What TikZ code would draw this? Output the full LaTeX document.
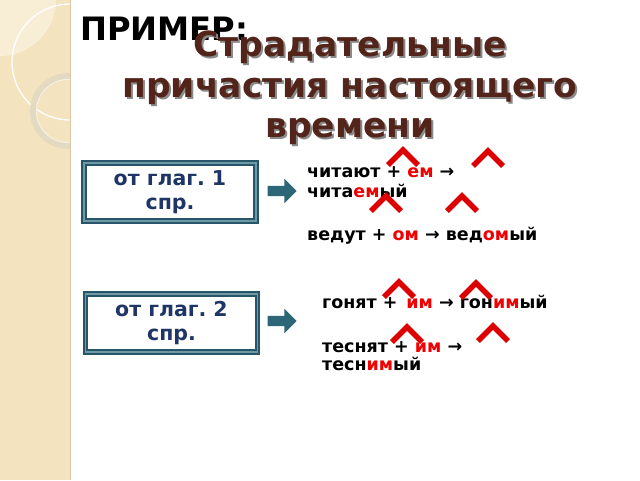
\documentclass[tikz,border=0pt]{standalone}
\usepackage{fontspec}
\setmainfont{DejaVu Sans}
\usetikzlibrary{shapes.arrows,calc}
\frenchspacing
\definecolor{band}{HTML}{F3E4BF}
\definecolor{bandlight}{HTML}{F8EED6}
\definecolor{bandedge}{HTML}{D6C7A6}
\definecolor{ringc}{HTML}{E4DAC2}
\definecolor{titlec}{HTML}{52241A}
\definecolor{shadowc}{HTML}{8A8A8A}
\definecolor{boxdark}{HTML}{27566A}
\definecolor{boxlight}{HTML}{6E9AA6}
\definecolor{navy}{HTML}{1F3566}
\definecolor{arrowteal}{HTML}{2D6676}
\definecolor{chevred}{HTML}{DD0000}
\definecolor{wordred}{HTML}{F00000}
\newcommand{\rd}[1]{\textcolor{wordred}{#1}}
\tikzset{
  titletext/.style={font=\bfseries\fontsize{34.5}{40}\selectfont, inner sep=0pt, anchor=base},
  wordline/.style={font=\bfseries\fontsize{17.5}{20}\selectfont, inner sep=0pt, anchor=base west},
  verbbox/.style={draw=boxdark, double=boxlight, double distance=1.2pt, line width=2.2pt,
    fill=white, minimum width=172pt, minimum height=58pt, inner sep=0pt, align=center,
    text=navy, font=\bfseries\fontsize{20.5}{24}\selectfont},
  blockarrow/.style={single arrow, fill=arrowteal, draw=none, inner sep=5pt,
    minimum height=29pt, single arrow head extend=7pt, single arrow head indent=0pt},
  chevline/.style={draw=chevred, line width=5.5pt, line join=miter},
  chevron/.pic={\draw[chevline] (-15,15) -- (0,0) -- (15,15);}
}
\begin{document}
\begin{tikzpicture}[x=1pt,y=-1pt]
\useasboundingbox (0,0) rectangle (640,480);
\fill[white] (0,0) rectangle (640,480);
% left band
\fill[band] (0,0) rectangle (70,480);
\begin{scope}
  \clip (0,0) rectangle (70,480);
  \fill[bandlight] (0,0) circle (56);
  \draw[white, line width=1.3pt] (70,62) circle (58);
  \draw[ringc, line width=6pt] (68,111) circle (35);
  \draw[white!60!ringc, line width=1pt] (68,111) circle (31.5);
\end{scope}
\draw[bandedge, line width=1.5pt] (70.5,0) -- (70.5,480);
% header
\node[font=\bfseries\fontsize{32.2}{36}\selectfont, inner sep=0pt, anchor=base west] (ex) at (80,40) {ПРИМЕР:};
\foreach \t/\y/\n in {Страдательные/56/t1, причастия настоящего/97/t2, времени/137/t3}{
  \node[titletext, text=shadowc] (\n s) at (352,\y+2) {\t};
  \node[titletext, text=titlec] (\n) at (350,\y) {\t};
}
% boxes
\node[verbbox] (b1) at (170,192) {от глаг. 1\\спр.};
\node[verbbox] (b2) at (171.5,323) {от глаг. 2\\спр.};
% arrows
\node[blockarrow] (a1) at (279.5,191) {};
\node[blockarrow] (a2) at (279.5,321) {};
% words
\node[wordline] (w1) at (307,177) {читают + \rd{ем} →};
\node[wordline] (w2) at (307,197) {чита\rd{ем}ый};
\node[wordline] (w3) at (307,240) {ведут + \rd{ом} → вед\rd{ом}ый};
\node[wordline] (w4) at (322,308) {гонят +\hspace{0.5em}\rd{им} → гон\rd{им}ый};
\node[wordline] (w5) at (322,352) {теснят + \rd{им} →};
\node[wordline] (w6) at (322,370) {тесн\rd{им}ый};
% chevrons
\foreach \x/\y in {403/150, 488/151, 386/196, 462/196, 399/282, 476/283, 407/327, 493/326}{
  \pic at (\x,\y) {chevron};
}
\end{tikzpicture}
\end{document}
